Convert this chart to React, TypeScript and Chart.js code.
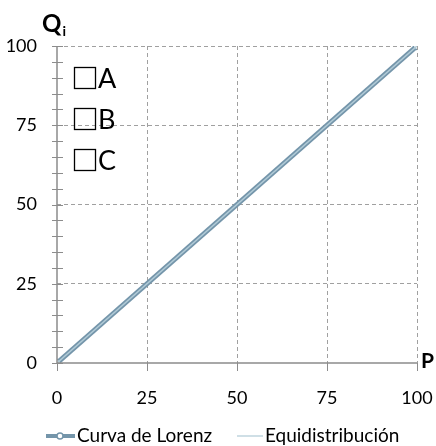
import React, { useEffect, useRef } from "react";
import { Chart, registerables } from "chart.js";
Chart.register(...registerables);

const xValues = [0, 100];
const lorenzValues = [0, 100];
const equiValues = [0, 100];
const tickValues = [0, 25, 50, 75, 100];
const optionLabels = ["A", "B", "C"];
const seriesNames = ["Curva de Lorenz", "Equidistribución"];

const FONT = "Lato, 'Liberation Sans', sans-serif";
const GRID = "#a0a0a0";
const AXIS = "#8c8c8c";
const LORENZ = "#7495aa";
const EQUI = "#b0cad6";

const overlay = {
  id: "overlay",
  afterDraw(chart: any) {
    const ctx = chart.ctx;
    const x = chart.scales.x;
    const y = chart.scales.y;
    ctx.save();
    ctx.setLineDash([]);
    ctx.strokeStyle = AXIS;
    ctx.lineWidth = 1.5;
    // solid axes
    const x0 = x.getPixelForValue(0);
    const y0 = y.getPixelForValue(0);
    ctx.beginPath();
    ctx.moveTo(x0, y.getPixelForValue(100));
    ctx.lineTo(x0, y0);
    ctx.lineTo(x.getPixelForValue(100), y0);
    ctx.stroke();
    ctx.lineWidth = 1;
    for (let v = 0; v <= 100; v += 5) {
      const py = Math.round(y.getPixelForValue(v)) + 0.5;
      ctx.beginPath();
      ctx.moveTo(x0 - 5, py);
      ctx.lineTo(x0 + 6, py);
      ctx.stroke();
    }
    for (const v of tickValues) {
      const px = Math.round(x.getPixelForValue(v)) + 0.5;
      ctx.beginPath();
      ctx.moveTo(px, y0);
      ctx.lineTo(px, y0 + 8);
      ctx.stroke();
    }
    ctx.fillStyle = "#000";
    ctx.textBaseline = "alphabetic";
    ctx.textAlign = "left";
    ctx.font = "bold 24px " + FONT;
    ctx.fillText("Q", 42, 32);
    const qw = ctx.measureText("Q").width;
    ctx.font = "bold 14px " + FONT;
    ctx.fillText("i", 42 + qw + 1, 36);
    ctx.font = "bold 21px " + FONT;
    ctx.fillText("P", 421, 368);
    ctx.font = "27px " + FONT;
    ctx.strokeStyle = "#000";
    ctx.lineWidth = 1.3;
    optionLabels.forEach((lab, i) => {
      const top = 67 + i * 41;
      ctx.strokeRect(74.5, top + 0.5, 21, 21);
      ctx.fillText(lab, 98, top + 21);
    });
    const ly = 436;
    ctx.font = "19px " + FONT;
    ctx.textBaseline = "middle";
    ctx.lineCap = "butt";
    ctx.strokeStyle = LORENZ;
    ctx.lineWidth = 4;
    ctx.beginPath();
    ctx.moveTo(46, ly);
    ctx.lineTo(75, ly);
    ctx.stroke();
    ctx.fillStyle = "#fff";
    ctx.lineWidth = 1.5;
    ctx.beginPath();
    ctx.arc(60, ly, 3, 0, Math.PI * 2);
    ctx.fill();
    ctx.stroke();
    ctx.fillStyle = "#000";
    ctx.fillText(seriesNames[0], 77, ly);
    ctx.strokeStyle = EQUI;
    ctx.lineWidth = 1.2;
    ctx.beginPath();
    ctx.moveTo(237, ly);
    ctx.lineTo(263, ly);
    ctx.stroke();
    ctx.fillText(seriesNames[1], 265, ly);
    ctx.restore();
  },
};

export default function App() {
  const ref = useRef<HTMLCanvasElement>(null);
  useEffect(() => {
    const gridColor = (c: any) => (c.tick && c.tick.value === 0 ? "rgba(0,0,0,0)" : GRID);
    const chart = new Chart(ref.current!, {
      type: "scatter",
      data: {
        datasets: [
          {
            label: seriesNames[0],
            data: xValues.map((x, i) => ({ x, y: lorenzValues[i] })),
            showLine: true,
            borderColor: LORENZ,
            borderWidth: 5,
            pointRadius: 3.5,
            pointBackgroundColor: "#fff",
            pointBorderColor: LORENZ,
            pointBorderWidth: 1.5,
            order: 2,
          },
          {
            label: seriesNames[1],
            data: xValues.map((x, i) => ({ x, y: equiValues[i] })),
            showLine: true,
            borderColor: EQUI,
            borderWidth: 1.5,
            pointRadius: 0,
            order: 1,
          },
        ],
      },
      options: {
        animation: false,
        responsive: false,
        layout: { padding: { top: 46, right: 19, left: 0, bottom: 0 } },
        plugins: { legend: { display: false }, tooltip: { enabled: false } },
        scales: {
          x: {
            type: "linear",
            min: 0,
            max: 100,
            afterFit: (s: any) => {
              s.height = 83;
              s.paddingLeft = 0;
              s.paddingRight = 0;
            },
            afterBuildTicks: (s: any) => { s.ticks = tickValues.map((v) => ({ value: v })); },
            ticks: { font: { family: FONT, size: 18 }, color: "#000", padding: 24 },
            grid: { drawTicks: false, color: gridColor, lineWidth: 1 },
            border: { display: false, color: AXIS, width: 1.5, dash: [4, 3] },
          },
          y: {
            type: "linear",
            min: 0,
            max: 100,
            afterFit: (s: any) => {
              s.width = 57;
              s.paddingTop = 0;
              s.paddingBottom = 0;
            },
            afterBuildTicks: (s: any) => { s.ticks = tickValues.map((v) => ({ value: v })); },
            ticks: { font: { family: FONT, size: 18 }, color: "#000", padding: 20 },
            grid: { drawTicks: false, color: gridColor, lineWidth: 1 },
            border: { display: false, color: AXIS, width: 1.5, dash: [4, 3] },
          },
        },
      },
      plugins: [overlay],
    } as any);
    return () => chart.destroy();
  }, []);
  return (
    <div style={{ position: "fixed", left: 0, top: 0, width: 436, height: 446, background: "#fff" }}>
      <canvas ref={ref} width={436} height={446} style={{ display: "block" }} />
    </div>
  );
}
